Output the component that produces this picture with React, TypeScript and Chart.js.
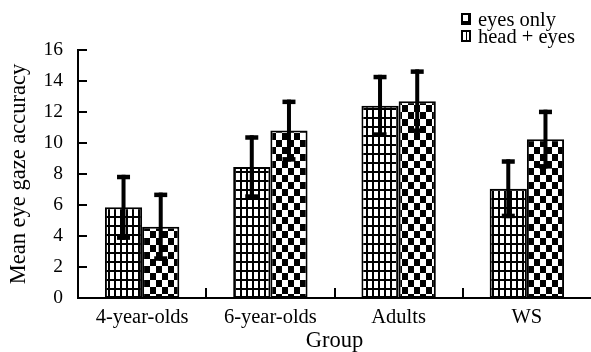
import React, { useEffect, useRef } from 'react';
import { Chart, registerables } from 'chart.js';

Chart.register(...registerables);

const categories = ['4-year-olds', '6-year-olds', 'Adults', 'WS'];
const seriesLabels = ['eyes only', 'head + eyes'];
const eyesOnly = [5.85, 8.45, 12.4, 7.05];
const eyesOnlyErr = [2.1, 2.05, 2.0, 1.9];
const headEyes = [4.6, 10.8, 12.7, 10.25];
const headEyesErr = [2.2, 2.0, 2.05, 1.9];
const yTickValues = [0, 2, 4, 6, 8, 10, 12, 14, 16];
const xTitle = 'Group';
const yTitle = 'Mean eye gaze accuracy';

const FONT = '"Liberation Serif", "Times New Roman", serif';

function makeGridPattern(ctx: CanvasRenderingContext2D) {
  const c = document.createElement('canvas');
  c.width = 6;
  c.height = 9;
  const g = c.getContext('2d')!;
  g.fillStyle = '#000';
  g.fillRect(0, 0, 6, 9);
  g.fillStyle = '#fff';
  g.fillRect(2, 2, 4, 7);
  return ctx.createPattern(c, 'repeat')!;
}

function makeCheckerPattern(ctx: CanvasRenderingContext2D) {
  const c = document.createElement('canvas');
  c.width = 12;
  c.height = 14;
  const g = c.getContext('2d')!;
  g.fillStyle = '#fff';
  g.fillRect(0, 0, 12, 14);
  g.fillStyle = '#000';
  g.fillRect(0, 0, 6, 7);
  g.fillRect(6, 7, 6, 7);
  return ctx.createPattern(c, 'repeat')!;
}

const errorBarPlugin = {
  id: 'errorBars',
  afterDatasetsDraw(chart: any) {
    const ctx = chart.ctx as CanvasRenderingContext2D;
    const y = chart.scales.y;
    chart.data.datasets.forEach((ds: any, di: number) => {
      const meta = chart.getDatasetMeta(di);
      meta.data.forEach((bar: any, i: number) => {
        const v = ds.data[i];
        const e = ds.errors[i];
        const top = y.getPixelForValue(v + e);
        const bot = y.getPixelForValue(v - e);
        ctx.save();
        ctx.fillStyle = '#000';
        ctx.fillRect(bar.x - 2, top, 4, bot - top);
        ctx.fillRect(bar.x - 6.5, top, 13, 4.5);
        ctx.fillRect(bar.x - 6.5, bot - 4.5, 13, 4.5);
        ctx.restore();
      });
    });
  },
};

const axisTicksPlugin = {
  id: 'innerTicks',
  afterDraw(chart: any) {
    const ctx = chart.ctx as CanvasRenderingContext2D;
    const { left, bottom } = chart.chartArea;
    const y = chart.scales.y;
    const x = chart.scales.x;
    ctx.save();
    ctx.strokeStyle = '#000';
    ctx.lineWidth = 2;
    y.ticks.forEach((t: any) => {
      const py = Math.round(y.getPixelForValue(t.value));
      ctx.beginPath();
      ctx.moveTo(left, py);
      ctx.lineTo(left + 9, py);
      ctx.stroke();
    });
    for (let i = 0; i < categories.length - 1; i++) {
      const px = Math.round((x.getPixelForTick(i) + x.getPixelForTick(i + 1)) / 2);
      ctx.beginPath();
      ctx.moveTo(px, bottom);
      ctx.lineTo(px, bottom - 10);
      ctx.stroke();
    }
    ctx.restore();
  },
};

const legendPlugin = {
  id: 'customLegend',
  afterDraw(chart: any) {
    const ctx = chart.ctx as CanvasRenderingContext2D;
    ctx.save();
    const ix = 461;
    const rows = [13, 30];
    chart.data.datasets.forEach((ds: any, di: number) => {
      const iy = rows[di];
      ctx.fillStyle = '#000';
      ctx.fillRect(ix, iy, 10, 12);
      ctx.fillStyle = '#fff';
      if (di === 0) {
        ctx.fillRect(ix + 2, iy + 2, 5, 6);
      } else {
        ctx.fillRect(ix + 2, iy + 2, 3, 8);
        ctx.fillRect(ix + 6, iy + 2, 2, 8);
      }
      ctx.fillStyle = '#000';
      ctx.font = `20.5px ${FONT}`;
      ctx.textBaseline = 'middle';
      ctx.textAlign = 'left';
      ctx.fillText(ds.label, 478, iy + 7.5);
    });
    ctx.restore();
  },
};

export default function App() {
  const ref = useRef<HTMLCanvasElement>(null);
  useEffect(() => {
    const canvas = ref.current!;
    const ctx = canvas.getContext('2d')!;
    Chart.defaults.font.family = FONT;
    const chart = new Chart(canvas, {
      type: 'bar',
      data: {
        labels: categories,
        datasets: [
          {
            label: seriesLabels[0],
            data: eyesOnly,
            errors: eyesOnlyErr,
            backgroundColor: makeGridPattern(ctx),
            borderColor: '#000',
            borderWidth: 2,
            borderSkipped: false,
            categoryPercentage: 0.58,
            barPercentage: 1.0,
          } as any,
          {
            label: seriesLabels[1],
            data: headEyes,
            errors: headEyesErr,
            backgroundColor: makeCheckerPattern(ctx),
            borderColor: '#000',
            borderWidth: 2,
            borderSkipped: false,
            categoryPercentage: 0.58,
            barPercentage: 1.0,
          } as any,
        ],
      },
      options: {
        animation: false,
        responsive: false,
        layout: { padding: { top: 50, right: 0, left: 0, bottom: 0 } },
        plugins: { legend: { display: false }, tooltip: { enabled: false } },
        scales: {
          x: {
            grid: { display: false, drawTicks: false },
            border: { display: true, color: '#000', width: 2 },
            ticks: { color: '#000', font: { family: FONT, size: 20.5 }, padding: 7 },
            title: { display: true, text: xTitle, color: '#000', font: { family: FONT, size: 22.5, lineHeight: 0.98 }, padding: 0 },
            afterFit: (s: any) => { s.height = 54; },
          },
          y: {
            min: 0,
            max: 16,
            afterBuildTicks: (s: any) => { s.ticks = yTickValues.map((v) => ({ value: v })); },
            grid: { display: false, drawTicks: false },
            border: { display: true, color: '#000', width: 2 },
            ticks: { color: '#000', font: { family: FONT, size: 19.5 }, padding: 15 },
            title: { display: true, text: yTitle, color: '#000', font: { family: FONT, size: 22.5, lineHeight: 1.12 }, padding: { top: 6.5, bottom: 0 } },
            afterFit: (s: any) => { s.width = 78; },
          },
        },
      },
      plugins: [errorBarPlugin, axisTicksPlugin, legendPlugin],
    });
    return () => chart.destroy();
  }, []);
  return (
    <div style={{ position: 'absolute', left: 0, top: 0, width: 591, height: 352, background: '#fff' }}>
      <canvas ref={ref} width={591} height={352} style={{ display: 'block' }} />
    </div>
  );
}
